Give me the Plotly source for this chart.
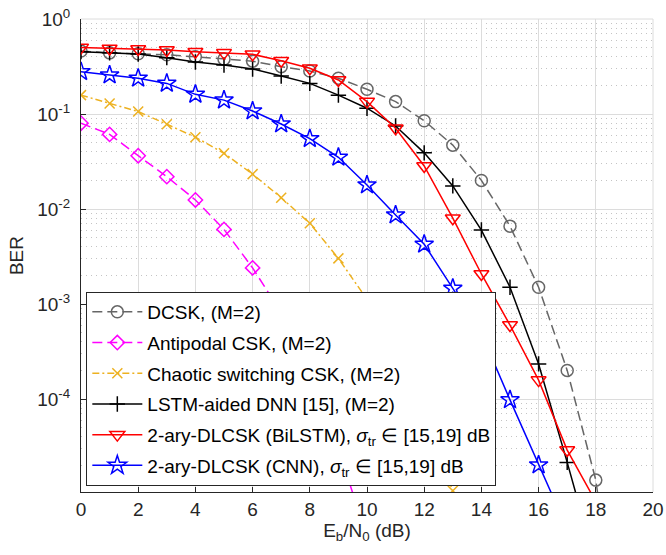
import plotly.graph_objects as go

# ---------------- data ----------------
snr_dcsk = list(range(0, 20))
ber_dcsk = [0.46, 0.44, 0.43, 0.42, 0.40, 0.38, 0.36, 0.315, 0.284, 0.238,
            0.182, 0.135, 0.085, 0.047, 0.020, 0.0066, 0.0015, 2.0e-4, 1.4e-5, 1e-7]

snr_anti = list(range(0, 11))
ber_anti = [0.080, 0.061, 0.0364, 0.0219, 0.01245, 0.0061, 0.0024, 8.1e-4,
            2.0e-4, 3.0e-5, 3.5e-6]

snr_chaos = list(range(0, 14))
ber_chaos = [0.158, 0.129, 0.106, 0.078, 0.057, 0.0386, 0.0233, 0.01315,
             0.00707, 0.00302, 0.00112, 2.9e-4, 6.2e-5, 1.08e-5]

snr_lstm = list(range(0, 19))
ber_lstm = [0.453, 0.442, 0.428, 0.392, 0.353, 0.328, 0.298, 0.251, 0.21, 0.158,
            0.115, 0.0748, 0.039, 0.0175, 0.0060, 0.0015, 2.34e-4, 2.15e-5, 1.8e-6]

snr_bilstm = list(range(0, 19))
ber_bilstm = [0.50, 0.49, 0.483, 0.472, 0.453, 0.44, 0.425, 0.364, 0.303, 0.228,
              0.135, 0.0707, 0.0284, 0.0080, 0.00207, 6.0e-4, 1.58e-4, 2.9e-5, 8.3e-6]

snr_cnn = list(range(0, 18))
ber_cnn = [0.279, 0.257, 0.238, 0.21, 0.161, 0.14, 0.1075, 0.0785, 0.055, 0.035,
           0.0179, 0.00865, 0.00425, 0.00146, 4.9e-4, 9.8e-5, 2.02e-5, 4.3e-6]

names = [
    "DCSK, (M=2)",
    "Antipodal CSK, (M=2)",
    "Chaotic switching CSK, (M=2)",
    "LSTM-aided DNN [15], (M=2)",
    "2-ary-DLCSK (BiLSTM), <i>σ</i><sub>tr</sub> ∈ [15,19] dB",
    "2-ary-DLCSK (CNN), <i>σ</i><sub>tr</sub> ∈ [15,19] dB",
]

x_ticks = list(range(0, 21, 2))
y_major = [1e-4, 1e-3, 1e-2, 1e-1, 1e0]
y_major_text = ["10<sup>-4</sup>", "10<sup>-3</sup>", "10<sup>-2</sup>",
                "10<sup>-1</sup>", "10<sup>0</sup>"]
y_minor = [m * 10.0 ** e for e in range(-5, 0) for m in range(2, 10)]

FONT = "Liberation Sans, Arial, Helvetica, sans-serif"
AX = "#262626"

fig = go.Figure()

def add(x, y, name, color, dash, symbol, msize, grp):
    fig.add_trace(go.Scatter(
        x=x, y=y, name=name, mode="lines+markers", legendgroup=grp,
        line=dict(color=color, width=1.5, dash=dash),
        marker=dict(symbol=symbol, size=msize, color=color,
                    line=dict(color=color, width=1.5)),
    ))

add(snr_dcsk, ber_dcsk, names[0], "#666666", "10px,5px", "circle-open", 12, "g1")
add(snr_anti, ber_anti, names[1], "#FF00FF", "10px,5px", "diamond-open", 11, "g2")
add(snr_chaos, ber_chaos, names[2], "#EDB120", "7px,3px,2px,3px", "x-thin-open", 10, "g3")
add(snr_lstm, ber_lstm, names[3], "#000000", "solid", "cross-thin-open", 11, "g4")
add(snr_bilstm, ber_bilstm, names[4], "#FF0000", "solid", "triangle-down-open", 13, "g5")
add(snr_cnn, ber_cnn, names[5], "#0000FF", "solid", "star-open", 14, "g6")

fig.update_layout(
    width=666, height=555,
    margin=dict(l=81, r=13, t=19, b=63),
    paper_bgcolor="white", plot_bgcolor="white",
    font=dict(family=FONT, size=19, color=AX),
    legend=dict(
        x=0.0093, y=0.0127, xanchor="left", yanchor="bottom",
        bgcolor="white", bordercolor=AX, borderwidth=1,
        font=dict(family=FONT, size=19, color="#000000"),
        itemwidth=50, tracegroupgap=3,
    ),
    showlegend=True,
)

fig.update_xaxes(
    range=[0, 20], tickvals=x_ticks, automargin=False,
    showgrid=True, gridcolor="#dcdcdc", gridwidth=1,
    showline=True, linecolor=AX, linewidth=1, mirror=False,
    ticks="inside", ticklen=5, tickcolor=AX,
    zeroline=False,
    tickfont=dict(family=FONT, size=19, color=AX),
    title=dict(text="E<sub>b</sub>/N<sub>0</sub> (dB)", standoff=4,
               font=dict(family=FONT, size=19, color=AX)),
)

fig.update_yaxes(
    type="log", range=[-4.979, 0], automargin=False,
    tickvals=y_major, ticktext=y_major_text,
    showgrid=True, gridcolor="#dcdcdc", gridwidth=1,
    showline=True, linecolor=AX, linewidth=1, mirror=False,
    ticks="inside", ticklen=5, tickcolor=AX,
    ticklabelstandoff=6,
    tickfont=dict(family=FONT, size=19, color=AX),
    minor=dict(tickvals=y_minor, showgrid=True, gridcolor="#c4c4c4",
               griddash="1px,4px", gridwidth=1, ticks=""),
    title=dict(text="BER", standoff=8,
               font=dict(family=FONT, size=19, color=AX)),
)

# light top and right frame (MATLAB box)
fig.add_shape(type="line", xref="x domain", yref="y domain",
              x0=0, x1=1, y0=1, y1=1, line=dict(color="#dcdcdc", width=1))
fig.add_shape(type="line", xref="x domain", yref="y domain",
              x0=1, x1=1, y0=0, y1=1, line=dict(color="#dcdcdc", width=1))

fig.write_html("out.html",
               config={"displayModeBar": False},
               post_script="document.body.style.margin='0';")
